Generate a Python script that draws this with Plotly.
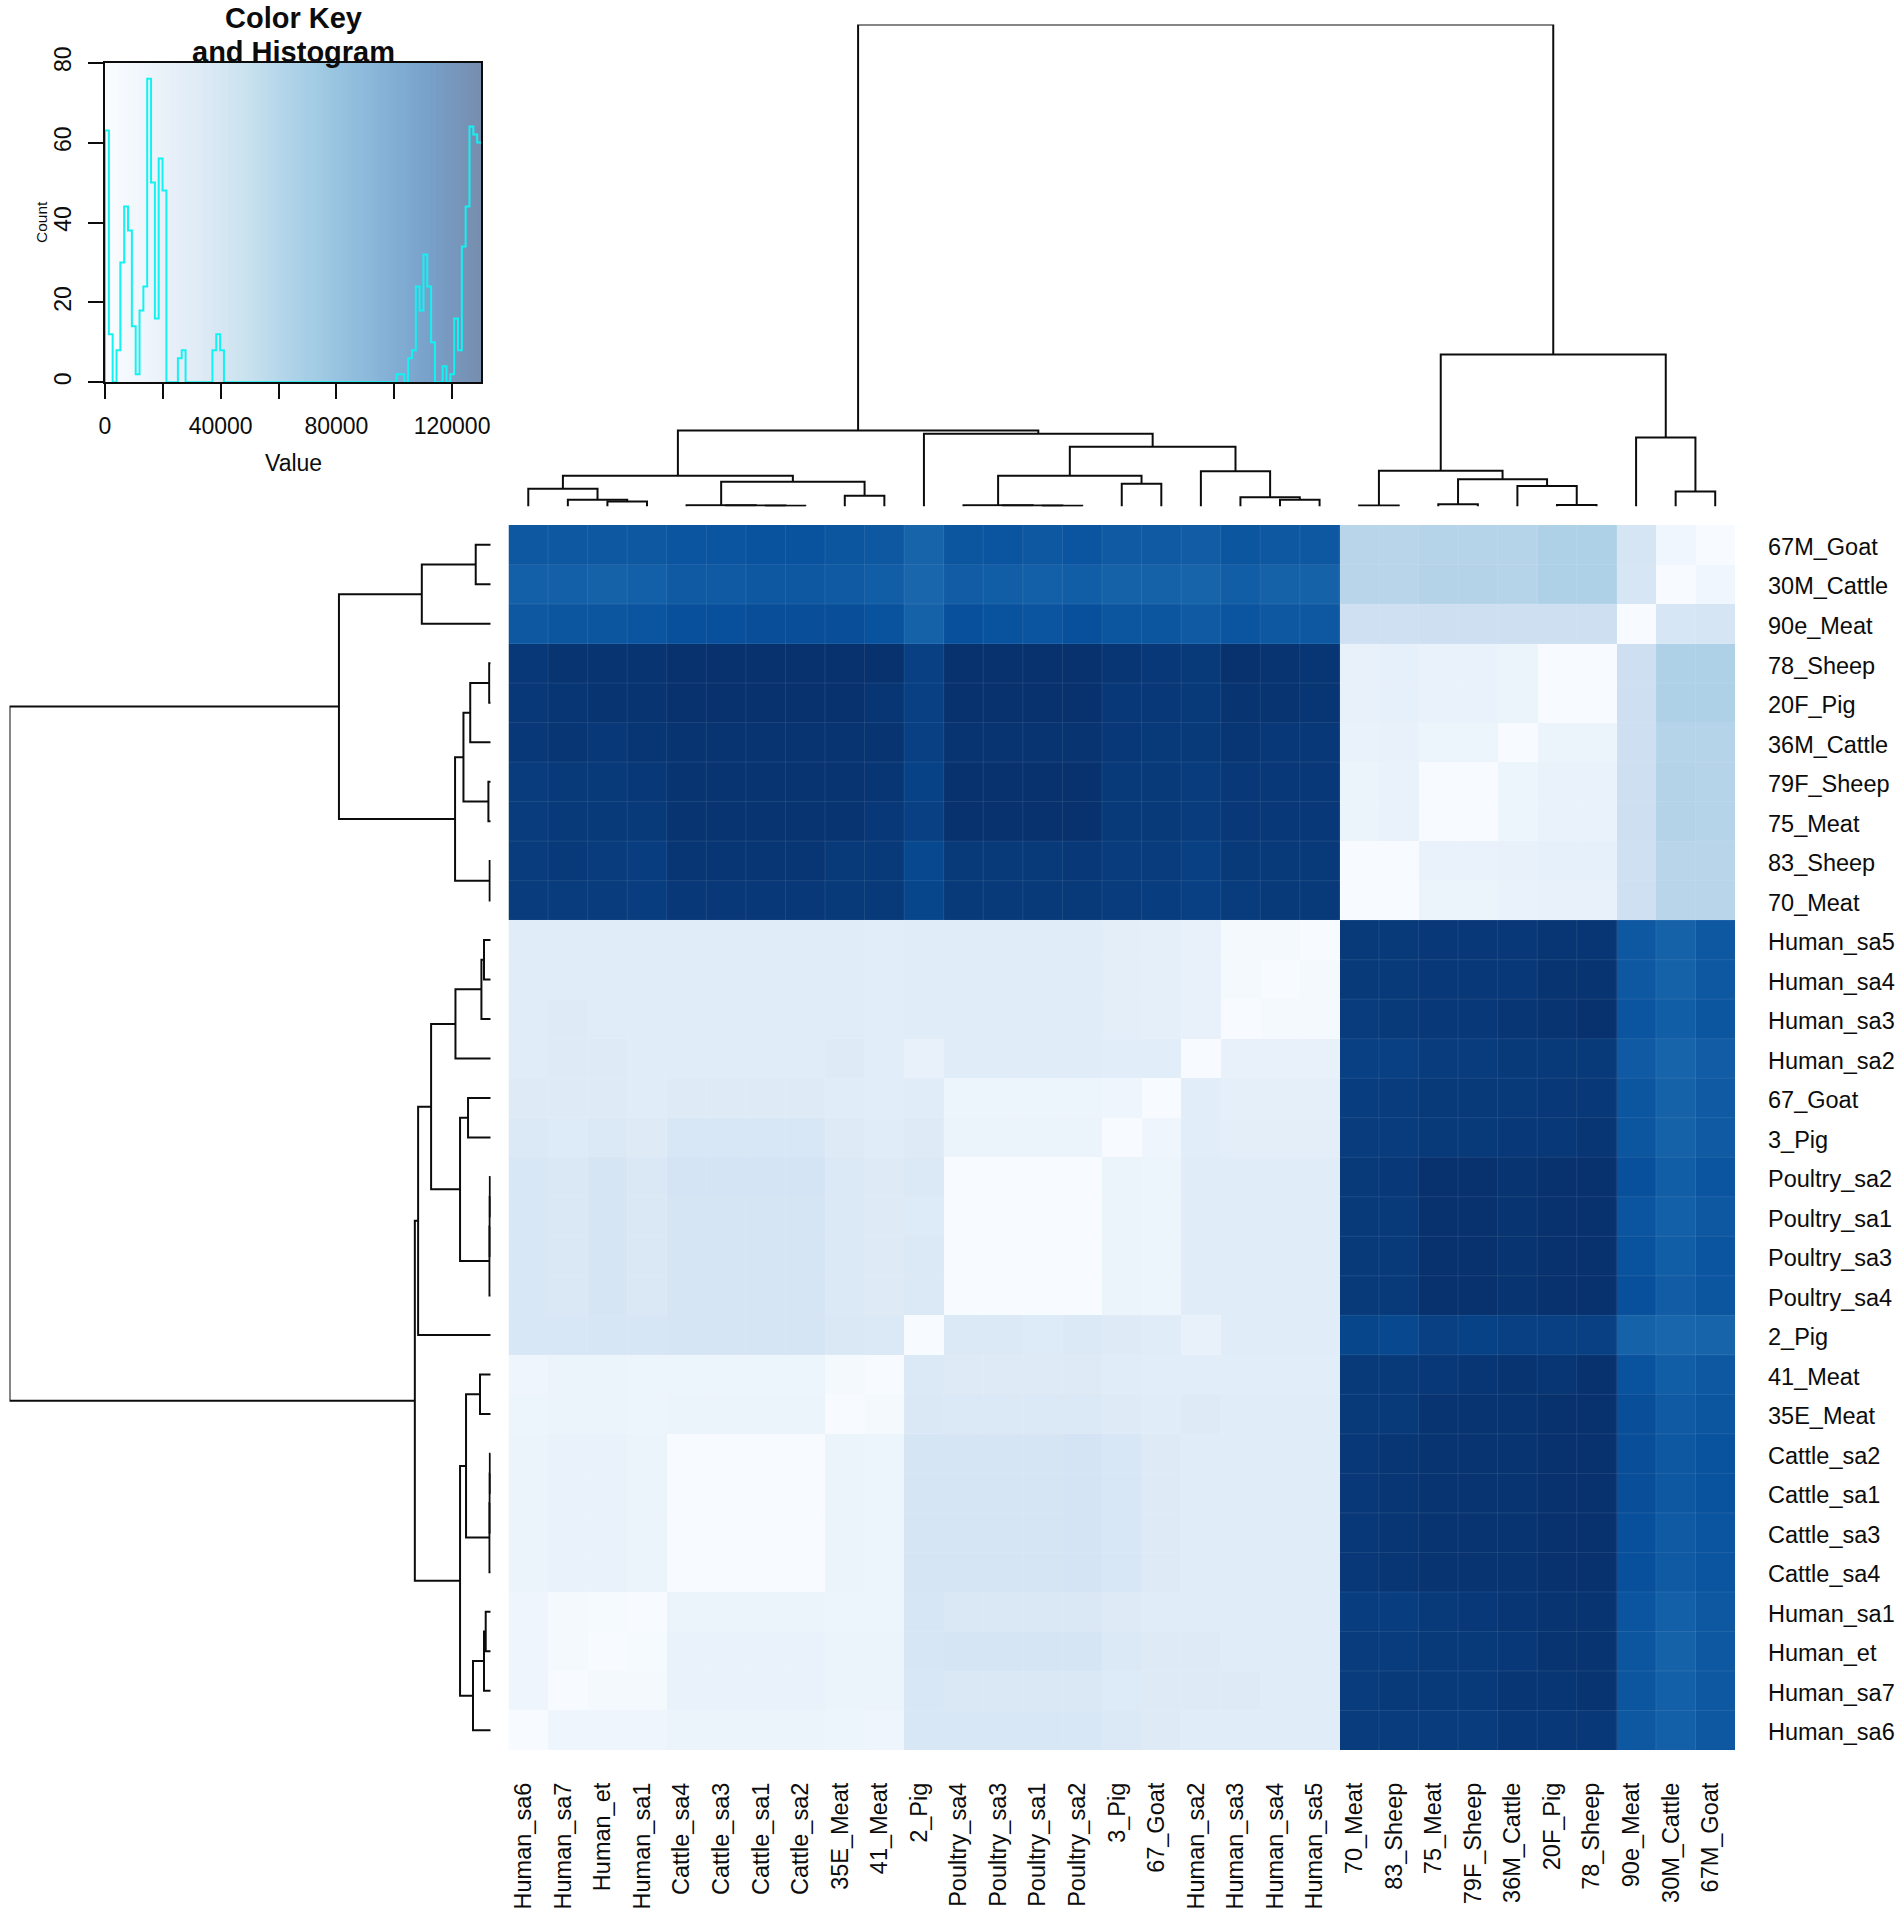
import numpy as np
import plotly.graph_objects as go

W, H = 1902, 1918
FONT = "Liberation Sans"
INK = "#0c0c0c"

# leaf order of both dendrograms, first = left column / bottom row
labels = ["Human_sa6", "Human_sa7", "Human_et", "Human_sa1", "Cattle_sa4", "Cattle_sa3", "Cattle_sa1", "Cattle_sa2",
          "35E_Meat", "41_Meat", "2_Pig", "Poultry_sa4", "Poultry_sa3", "Poultry_sa1", "Poultry_sa2", "3_Pig",
          "67_Goat", "Human_sa2", "Human_sa3", "Human_sa4", "Human_sa5", "70_Meat", "83_Sheep", "75_Meat",
          "79F_Sheep", "36M_Cattle", "20F_Pig", "78_Sheep", "90e_Meat", "30M_Cattle", "67M_Goat"]

# distance matrix, lower triangle, in thousands
dist_lower = [
    [0],
    [6, 0],
    [6, 2, 0],
    [6, 2, 1, 0],
    [8, 9, 9, 8, 0],
    [8, 9, 9, 8, 0, 0],
    [8, 9, 9, 8, 0, 0, 0],
    [8, 9, 9, 8, 0, 0, 0, 0],
    [7, 8, 8, 7, 8, 8, 8, 8, 0],
    [6, 8, 8, 7, 7, 7, 7, 7, 2, 0],
    [20, 20, 21, 21, 22, 22, 22, 22, 19, 18, 0],
    [20, 19, 22, 19, 22, 22, 22, 22, 18, 16, 18, 0],
    [20, 19, 22, 19, 22, 22, 22, 22, 18, 16, 18, 0, 0],
    [20, 19, 22, 19, 22, 22, 22, 22, 18, 16, 17, 0, 0, 0],
    [20, 19, 22, 19, 23, 23, 23, 23, 18, 16, 18, 0, 0, 0, 0],
    [18, 17, 18, 16, 20, 20, 20, 20, 16, 15, 16, 8, 8, 8, 8, 0],
    [16, 16, 16, 15, 16, 16, 16, 16, 15, 14, 15, 7, 7, 7, 7, 6, 0],
    [15, 16, 16, 15, 15, 15, 15, 15, 16, 14, 10, 15, 15, 15, 15, 14, 14, 0],
    [15, 16, 15, 15, 15, 15, 15, 15, 15, 14, 15, 15, 15, 15, 15, 13, 12, 10, 0],
    [15, 15, 15, 15, 15, 15, 15, 15, 15, 14, 15, 15, 15, 15, 15, 13, 12, 10, 2, 0],
    [15, 15, 15, 15, 15, 15, 15, 15, 15, 14, 15, 15, 15, 15, 15, 13, 12, 10, 2, 2, 0],
    [124, 124, 124, 123, 126, 126, 126, 126, 125, 125, 119, 125, 125, 125, 125, 124, 123, 122, 124, 125, 125, 0],
    [124, 125, 124, 123, 127, 127, 127, 127, 125, 125, 118, 125, 125, 125, 126, 124, 124, 122, 125, 125, 125, 0, 0],
    [124, 125, 125, 125, 128, 128, 128, 128, 128, 126, 122, 129, 129, 129, 129, 125, 125, 124, 126, 126, 126, 8, 9, 0],
    [124, 125, 125, 126, 128, 128, 128, 128, 128, 127, 121, 129, 129, 129, 129, 125, 125, 124, 126, 126, 126, 8, 9, 0, 0],
    [126, 127, 126, 127, 128, 128, 128, 128, 128, 128, 122, 128, 128, 128, 128, 126, 125, 125, 127, 126, 126, 9, 10, 7, 7, 0],
    [126, 127, 128, 128, 129, 129, 129, 129, 129, 127, 122, 129, 129, 129, 129, 126, 126, 125, 128, 128, 127, 10, 11, 9, 9, 8, 0],
    [126, 128, 128, 128, 129, 129, 129, 129, 129, 129, 122, 129, 129, 129, 129, 127, 126, 125, 129, 128, 127, 10, 11, 9, 9, 8, 0, 0],
    [110, 111, 111, 112, 114, 114, 115, 115, 115, 113, 105, 114, 113, 112, 114, 111, 111, 109, 112, 110, 110, 27, 27, 28, 28, 28, 28, 28, 0],
    [106, 106, 105, 106, 109, 109, 110, 110, 109, 107, 103, 108, 107, 106, 107, 105, 105, 104, 107, 105, 105, 38, 38, 40, 40, 39, 42, 42, 21, 0],
    [110, 110, 110, 110, 112, 112, 113, 113, 111, 110, 104, 111, 112, 110, 112, 109, 109, 108, 111, 110, 110, 38, 38, 39, 39, 39, 42, 42, 22, 5, 0],
]

# hierarchical clustering: ids above 30 point at an earlier merge
merge_left = [19, 18, 17, 13, 12, 11, 15, 36, 38, 10, 2, 1, 0, 6, 5, 4, 8, 46, 43, 49, 21, 23, 26, 25, 52, 51, 29, 28, 56, 50]
merge_right = [20, 31, 32, 14, 34, 35, 16, 37, 33, 39, 3, 41, 42, 7, 44, 45, 9, 47, 48, 40, 22, 24, 27, 53, 54, 55, 30, 57, 58, 59]
merge_height = [6.7, 9.3, 35.3, 0.8, 1.0, 1.2, 22.7, 30.7, 59.7, 72.7, 5.0, 6.7, 17.7, 0.8, 1.0, 1.2, 10.7, 24.7, 30.7, 76.0,
                1.0, 2.3, 1.5, 20.5, 27.3, 35.7, 15.0, 69.0, 152.0, 482.0]

# color key histogram, 98 equal bins over 0-130000
hist_max = 130000
hist_counts = [63, 12, 0, 8, 30, 44, 38, 14, 2, 18, 24, 76, 50, 16, 56, 48, 0, 0, 0, 6, 8] + [0] * 7 + [8, 12, 8] + [0] * 45 + \
              [2, 2, 0, 6, 8, 24, 18, 32, 24, 10, 0, 0, 4, 0, 2, 16, 8, 34, 44, 64, 62, 60]
key_levels = list(range(0, hist_max + 1, 1000))
count_ticks = [0, 20, 40, 60, 80]
value_ticks = [0, 20000, 40000, 60000, 80000, 100000, 120000]
value_ticktext = ["0", "", "40000", "", "80000", "", "120000"]

blues = ["#F7FBFF", "#DEEBF7", "#C6DBEF", "#9ECAE1", "#6BAED6", "#4292C6", "#2171B5", "#08519C", "#08306B"]
colorscale = [[i / 8, c] for i, c in enumerate(blues)]


def full_matrix(lower):
    n = len(lower)
    m = np.zeros((n, n))
    for i, row in enumerate(lower):
        for j, v in enumerate(row):
            m[i, j] = m[j, i] = v * 1000
    return m


def dendro_lines(n):
    """Walk the merges, return leaf position and height polylines."""
    pos = {i: float(i) for i in range(n)}
    hgt = {i: 0.0 for i in range(n)}
    p_line, h_line = [], []
    for k, (a, b, h) in enumerate(zip(merge_left, merge_right, merge_height)):
        p_line += [pos[a], pos[a], pos[b], pos[b], None]
        h_line += [hgt[a], h, h, hgt[b], None]
        pos[n + k] = (pos[a] + pos[b]) / 2
        hgt[n + k] = h
    return p_line, h_line


def dom_x(left, right):
    return [left / W, right / W]


def dom_y(top, bottom):
    return [1 - bottom / H, 1 - top / H]


def note(text, x, y, size, bold=False, angle=0):
    fig.add_annotation(text=f"<b>{text}</b>" if bold else text, xref="paper", yref="paper", x=x / W, y=1 - y / H,
                       xanchor="center", yanchor="middle", showarrow=False, textangle=angle,
                       font=dict(family=FONT, size=size, color=INK))


n = len(labels)
leaves = list(range(n))
cell_range = [-0.5, n - 0.5]
z = full_matrix(dist_lower)
p_line, h_line = dendro_lines(n)

fig = go.Figure()

# main heatmap
fig.add_trace(go.Heatmap(z=z, x=leaves, y=leaves, colorscale=colorscale, zmin=0, zmax=hist_max, showscale=False,
                         xaxis="x", yaxis="y"))

# faint seams between cells
seam_x, seam_y = [], []
for i in range(1, n):
    seam_x += [i - 0.5, i - 0.5, None, cell_range[0], cell_range[1], None]
    seam_y += [cell_range[0], cell_range[1], None, i - 0.5, i - 0.5, None]
fig.add_trace(go.Scatter(x=seam_x, y=seam_y, mode="lines", line=dict(color="rgba(255,255,255,0.09)", width=1),
                         hoverinfo="skip", xaxis="x", yaxis="y"))

# dendrograms
fig.add_trace(go.Scatter(x=p_line, y=h_line, mode="lines", line=dict(color=INK, width=2), cliponaxis=False,
                         xaxis="x2", yaxis="y2"))
fig.add_trace(go.Scatter(x=h_line, y=p_line, mode="lines", line=dict(color=INK, width=2), cliponaxis=False,
                         xaxis="x3", yaxis="y3"))

# color key and histogram
fig.add_trace(go.Heatmap(z=[key_levels], x=key_levels, y=count_ticks[0::4], colorscale=colorscale, zmin=0, zmax=hist_max,
                         showscale=False, opacity=0.55, xaxis="x4", yaxis="y4"))
bin_width = hist_max / len(hist_counts)
hist_x = [0.0] + [i * bin_width for i in range(len(hist_counts) + 1)]
hist_y = [0] + hist_counts + [hist_counts[-1]]
fig.add_trace(go.Scatter(x=hist_x, y=hist_y, mode="lines", line=dict(color="#12F2F2", width=2, shape="hv"),
                         cliponaxis=False, xaxis="x4", yaxis="y4"))

hide = dict(showgrid=False, zeroline=False, showticklabels=False, ticks="", showline=False, automargin=False)
main_x = dict(domain=dom_x(508.5, 1735), range=cell_range, showgrid=False, zeroline=False, ticks="",
              automargin=False, tickmode="array", tickvals=[i - 0.12 for i in leaves], ticktext=labels, tickangle=-90,
              ticklabelstandoff=27, tickfont=dict(family=FONT, size=23.5, color=INK))
main_y = dict(domain=dom_y(525, 1750), range=cell_range, side="right", showgrid=False, zeroline=False, ticks="",
              automargin=False, tickmode="array", tickvals=[i - 0.05 for i in leaves], ticktext=labels,
              ticklabelstandoff=32, tickfont=dict(family=FONT, size=23.5, color=INK))
axis_style = dict(showgrid=False, zeroline=False, showline=True, mirror=True, linecolor=INK, linewidth=1.5,
                  automargin=False, ticks="outside", ticklen=15, tickwidth=1.5, tickcolor=INK, tickmode="array",
                  tickfont=dict(family=FONT, size=23, color=INK))

fig.update_layout(
    width=W, height=H, margin=dict(l=0, r=0, t=0, b=0), paper_bgcolor="white", plot_bgcolor="white",
    showlegend=False,
    xaxis=main_x, yaxis=main_y,
    xaxis2=dict(domain=dom_x(508.5, 1735), range=cell_range, anchor="y2", **hide),
    yaxis2=dict(domain=dom_y(24.5, 506.5), range=[0, 482], anchor="x2", **hide),
    xaxis3=dict(domain=dom_x(9.5, 490.7), range=[482, 0], anchor="y3", **hide),
    yaxis3=dict(domain=dom_y(525, 1750), range=cell_range, anchor="x3", **hide),
    xaxis4=dict(domain=dom_x(105, 481), range=[0, hist_max], anchor="y4", tickvals=value_ticks,
                ticktext=value_ticktext, ticklabelstandoff=7, **axis_style),
    yaxis4=dict(domain=dom_y(62.7, 382.3), range=[0, 80], anchor="x4", tickvals=count_ticks, tickangle=-90,
                ticklabelstandoff=8, **axis_style),
)

note("Color Key", 293, 18, 29, bold=True)
note("and Histogram", 293, 52, 29, bold=True)
note("Value", 293, 463, 23)
note("Count", 42, 222, 15.5, angle=-90)

fig.write_html("out.html", config=dict(displayModeBar=False), post_script="document.body.style.margin='0';")
